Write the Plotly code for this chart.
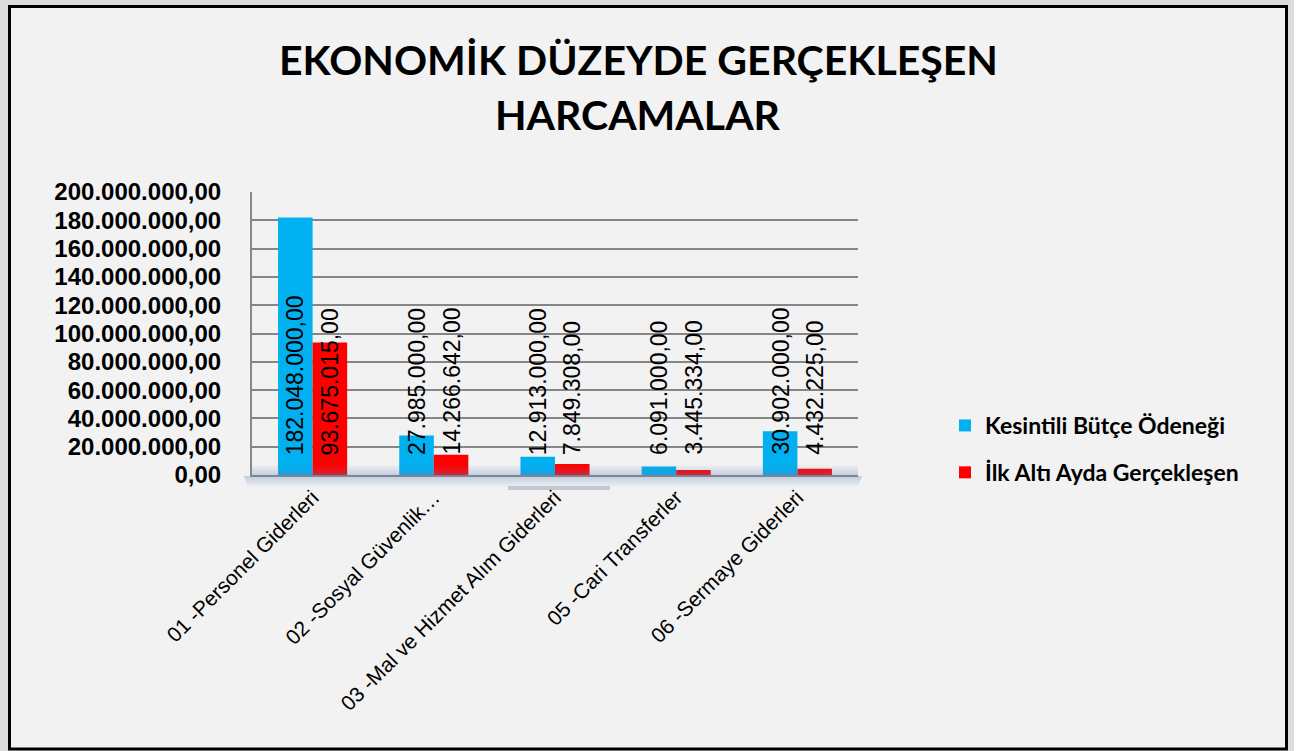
import plotly.graph_objects as go

categories = ["01 -Personel Giderleri", "02 -Sosyal Güvenlik…", "03 -Mal ve Hizmet Alım Giderleri",
              "05 -Cari Transferler", "06 -Sermaye Giderleri"]
series_names = ["Kesintili Bütçe Ödeneği", "İlk Altı Ayda Gerçekleşen"]
budget = [182048000.00, 27985000.00, 12913000.00, 6091000.00, 30902000.00]
realized = [93675015.00, 14266642.00, 7849308.00, 3445334.00, 4432225.00]
tick_vals = [0, 20e6, 40e6, 60e6, 80e6, 100e6, 120e6, 140e6, 160e6, 180e6, 200e6]
title_lines = ["EKONOMİK DÜZEYDE GERÇEKLEŞEN", "HARCAMALAR"]

def tr_fmt(v):
    s = f"{v:,.2f}"
    return s.replace(",", "X").replace(".", ",").replace("X", ".")

tick_text = [tr_fmt(v) for v in tick_vals]

W, H = 1306, 751
L, R, T, B = 252, 858, 192, 475
PW, PH = R - L, B - T

def px(x):
    return (x - L) / PW

def py(y):
    return (B - y) / PH

BLUE = "#00B0F0"
RED = "#FF0000"

fig = go.Figure()
fig.add_trace(go.Bar(x=categories, y=budget, name=series_names[0], marker_color=BLUE,
                     marker_line_width=0, legendgroup="a"))
fig.add_trace(go.Bar(x=categories, y=realized, name=series_names[1], marker_color=RED,
                     marker_line_width=0, legendgroup="b"))

annotations = []
for i, c in enumerate(categories):
    for vals, shift in ((budget, -17.3), (realized, 17.3)):
        annotations.append(dict(x=c, y=0, xref="x", yref="y", text=tr_fmt(vals[i]),
                                textangle=-90, showarrow=False, xanchor="center", yanchor="bottom",
                                xshift=shift, yshift=18,
                                font=dict(family="Liberation Sans, Arial", size=23, color="black")))

for line, yc in zip(title_lines, (59, 114)):
    annotations.append(dict(x=px(638), y=py(yc), xref="paper", yref="paper", text=f"<b>{line}</b>",
                            showarrow=False, xanchor="center", yanchor="middle",
                            font=dict(family="Lato", size=41, color="black")))

shapes = [
    dict(type="rect", xref="paper", yref="paper", x0=px(0), x1=px(1294), y0=py(0), y1=py(751),
         fillcolor="#dcdcdc", line_width=0, layer="below"),
    dict(type="rect", xref="paper", yref="paper", x0=px(9.5), x1=px(1286.5), y0=py(6.5), y1=py(749),
         fillcolor="#f2f2f2", line=dict(color="black", width=3), layer="below"),
    dict(type="rect", xref="paper", yref="paper", x0=px(508), x1=px(610), y0=py(486), y1=py(490),
         fillcolor="rgba(140,150,165,0.45)", line_width=0, layer="below"),
]
# soft glow below the axis (floor shadow)
for k in range(11):
    a = 0.55 * (1 - k / 11)
    shapes.append(dict(type="rect", xref="paper", yref="paper", x0=px(244 + k * 0.4), x1=px(862 - k * 0.4),
                       y0=py(476 + k + 1), y1=py(476 + k),
                       fillcolor=f"rgba(150,175,212,{a:.3f})", line_width=0, layer="below"))
# floor band inside plot, darkening the bottoms of the bars
for k in range(11):
    a = 0.32 * (k + 1) / 11
    shapes.append(dict(type="rect", xref="paper", yref="paper", x0=0, x1=1,
                       y0=py(465 + k + 1), y1=py(465 + k),
                       fillcolor=f"rgba(95,125,185,{a:.3f})", line_width=0, layer="above"))

fig.update_layout(
    width=W, height=H,
    margin=dict(l=L, r=W - R, t=T, b=H - B, pad=0),
    paper_bgcolor="white",
    plot_bgcolor="white",
    barmode="group", bargap=0.43, bargroupgap=0,
    annotations=annotations,
    shapes=shapes,
    showlegend=True,
    legend=dict(x=px(945), y=py(404), xanchor="left", yanchor="top",
                font=dict(family="Lato", size=23, color="black", weight="bold"),
                bgcolor="rgba(0,0,0,0)", tracegroupgap=14, traceorder="grouped",
                itemwidth=30),
    xaxis=dict(tickangle=-45, tickfont=dict(family="Liberation Sans, Arial", size=21, color="black"),
               showline=True, linecolor="#888888", linewidth=2, ticks="", showgrid=False),
    yaxis=dict(range=[0, 200e6], tickvals=tick_vals, ticktext=tick_text,
               tickfont=dict(family="Liberation Sans, Arial", size=24, color="black", weight="bold"),
               ticklabelstandoff=24,
               showgrid=True, gridcolor="#868686", gridwidth=2,
               showline=True, linecolor="#888888", linewidth=2, ticks="", ticklen=0,
               zeroline=False),
)

fig.write_html("out.html")
